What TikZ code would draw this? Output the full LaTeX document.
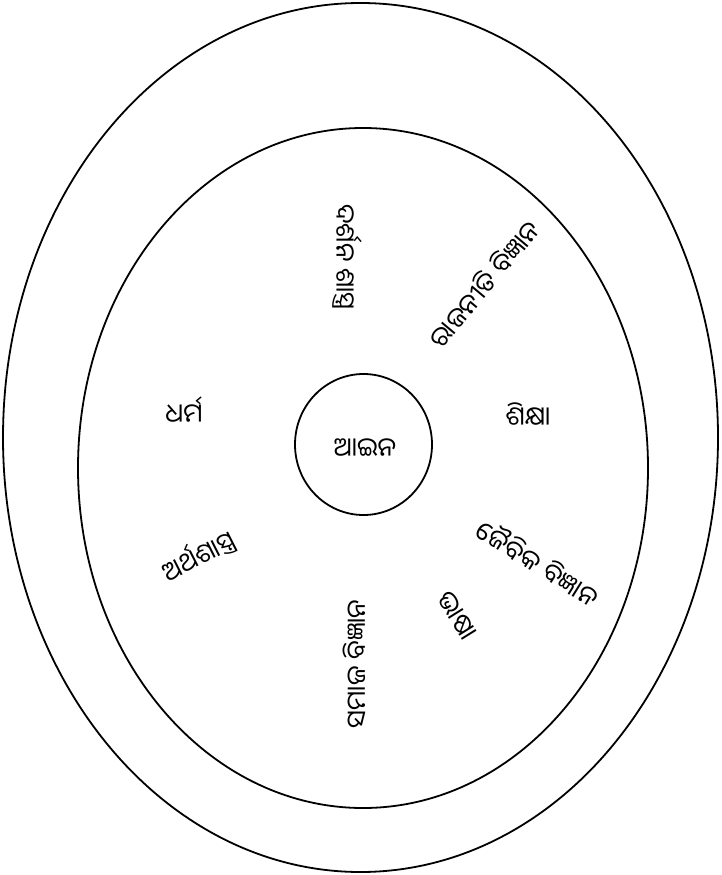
\documentclass[tikz,border=0pt]{standalone}
\usepackage{fontspec}
\newfontfamily\odia[Script=Oriya]{Noto Sans Oriya UI}
\begin{document}
\begin{tikzpicture}[x=1pt,y=-1pt,lbl/.style={font=\odia\fontsize{26}{30}\selectfont,inner sep=0pt}]
\useasboundingbox (0,0) rectangle (722,875);
\draw[line width=1.8pt] (360.5,437.5) ellipse (357.5 and 434.5);
\draw[line width=1.8pt] (363,468) ellipse (285 and 340);
\draw[line width=1.8pt] (363.5,444.5) ellipse (68.5 and 70.5);
\node[lbl] (ain) at (365,449) {ଆଇନ};
\foreach \n/\x/\y/\a/\t in {dharma/184/411/0/ଧର୍ମ, shiksha/528/415/0/ଶିକ୍ଷା, darshana/347/257/-90/ଦର୍ଶନ ଶାସ୍ତ୍ର, rajaniti/484/284/50/ରାଜନୀତି ବିଜ୍ଞାନ, jaibika/538/563/-32/ଜୈବିକ ବିଜ୍ଞାନ, bhasha/456/616/-58/ଭାଷା, samaja/355/664/90/ସମାଜ ବିଜ୍ଞାନ, artha/198/555/27/ଅର୍ଥଶାସ୍ତ୍ର}
  { \node[lbl,rotate=\a] (\n) at (\x,\y) {\t}; }
\end{tikzpicture}
\end{document}
